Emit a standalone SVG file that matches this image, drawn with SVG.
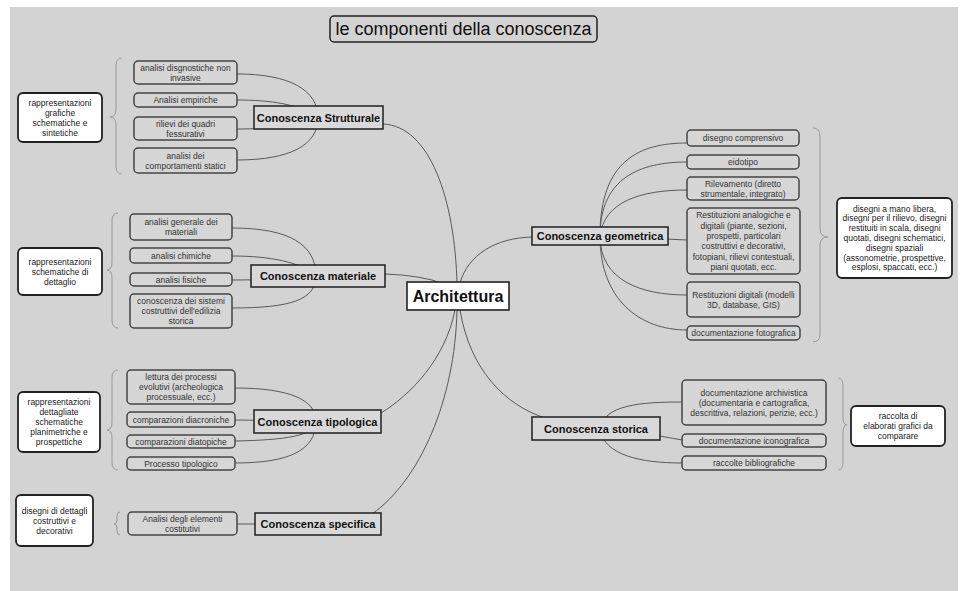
<svg xmlns="http://www.w3.org/2000/svg" width="964" height="591" viewBox="0 0 964 591">
<style>
text{font-family:"Liberation Sans",Arial,sans-serif;text-anchor:middle}
.bg{fill:#d3d3d3}
.c{fill:none;stroke:#5a5a5a;stroke-width:1}
.br{fill:none;stroke:#9a9a9a;stroke-width:1}
.leaf{fill:#d6d6d6;stroke:#454545;stroke-width:1.5}
.note{fill:#ffffff;stroke:#222;stroke-width:1.8}
.branch{fill:#d9d9d9;stroke:#2a2a2a;stroke-width:1.6}
.lt{font-size:8.5px;fill:#333}
.nt{font-size:8.5px;fill:#1a1a1a}
.bt{font-size:11px;font-weight:bold;fill:#111}
</style>
<rect x="0" y="0" width="964" height="591" fill="#ffffff"/>
<rect class="bg" x="10" y="7" width="948" height="584"/>

<g id="connectors">
<!-- root -->
<path class="c" d="M457,284 C455,200 430,126 383,124"/>
<path class="c" d="M385,274 Q420,275 445,284"/>
<path class="c" d="M460,283 C468,255 495,238 532,237"/>
<path class="c" d="M455,310 C445,360 410,395 381,413"/>
<path class="c" d="M457,310 C455,400 420,480 372,514"/>
<path class="c" d="M460,310 C470,370 505,405 545,418"/>
<!-- strutturale -->
<path class="c" d="M237,74 C290,74 318,90 318,118"/>
<path class="c" d="M237,100 C270,100 300,104 318,118"/>
<path class="c" d="M237,129 C270,129 300,125 318,118"/>
<path class="c" d="M237,160 C290,160 318,145 318,118"/>
<!-- materiale -->
<path class="c" d="M232,228 C290,228 316,245 316,276"/>
<path class="c" d="M232,256 C270,256 300,262 318,276"/>
<path class="c" d="M232,280 C270,280 300,278 318,276"/>
<path class="c" d="M232,308 C290,308 316,300 316,276"/>
<!-- tipologica -->
<path class="c" d="M235,388 C290,388 316,400 316,421"/>
<path class="c" d="M235,420 L318,421"/>
<path class="c" d="M235,441 C285,440 316,436 316,421"/>
<path class="c" d="M235,463 C290,463 316,450 316,421"/>
<!-- specifica -->
<path class="c" d="M237,524 L318,524"/>
<!-- geometrica -->
<path class="c" d="M600,236 C600,160 640,143 687,143"/>
<path class="c" d="M600,236 C600,178 640,162 687,162"/>
<path class="c" d="M600,236 C604,202 640,190 687,190"/>
<path class="c" d="M600,236 L687,240"/>
<path class="c" d="M600,236 C600,280 640,295 687,295"/>
<path class="c" d="M600,236 C600,300 640,330 687,330"/>
<!-- storica -->
<path class="c" d="M600,428 C605,405 640,402 682,402"/>
<path class="c" d="M600,430 C640,432 660,436 682,440"/>
<path class="c" d="M600,430 C605,455 640,463 682,463"/>
</g>

<g id="braces">
<path class="br" d="M122,58 Q116,58 116,66 L116,109 Q116,117 110,117 Q116,117 116,125 L116,166 Q116,174 122,174"/>
<path class="br" d="M118,213 Q112,213 112,221 L112,262 Q112,270 107,270 Q112,270 112,278 L112,320 Q112,328 118,328"/>
<path class="br" d="M118,370 Q112,370 112,378 L112,422 Q112,430 107,430 Q112,430 112,438 L112,462 Q112,470 118,470"/>
<path class="br" d="M120,512 Q117,512 117,516 L117,520 Q117,524 114,524 Q117,524 117,528 L117,531 Q117,535 120,535"/>
<path class="br" d="M813,128 Q820,128 820,136 L820,229 Q820,237 828,237 Q820,237 820,245 L820,334 Q820,342 813,342"/>
<path class="br" d="M838,378 Q843,378 843,386 L843,417 Q843,425 847,425 Q843,425 843,433 L843,462 Q843,470 838,470"/>
</g>

<g id="title">
<rect x="330" y="16" width="267" height="26" rx="4" fill="#d3d3d3" stroke="#222" stroke-width="1.5"/>
<text x="463.5" y="35" font-size="18" fill="#111">le componenti della conoscenza</text>
</g>

<g id="architettura">
<rect x="407" y="282" width="102" height="28" fill="#ffffff" stroke="#222" stroke-width="1.6"/>
<text x="458" y="302" font-size="16" font-weight="bold" fill="#111">Architettura</text>
</g>

<g id="strutturale">
<rect class="branch" x="254" y="106" width="129" height="23"/>
<text class="bt" x="318.5" y="121.5">Conoscenza Strutturale</text>
</g>
<g id="s1"><rect class="leaf" x="134" y="61" width="103" height="23" rx="4"/><text class="lt" x="185.5" y="70.5">analisi disgnostiche non<tspan x="185.5" dy="10">invasive</tspan></text></g>
<g id="s2"><rect class="leaf" x="134" y="93" width="103" height="14" rx="4"/><text class="lt" x="185.5" y="103">Analisi empiriche</text></g>
<g id="s3"><rect class="leaf" x="134" y="117" width="103" height="23" rx="4"/><text class="lt" x="185.5" y="126.5">rilievi dei quadri<tspan x="185.5" dy="10">fessurativi</tspan></text></g>
<g id="s4"><rect class="leaf" x="134" y="148" width="103" height="25" rx="4"/><text class="lt" x="185.5" y="158.5">analisi dei<tspan x="185.5" dy="10">comportamenti statici</tspan></text></g>
<g id="sn"><rect class="note" x="18" y="93" width="84" height="49" rx="5"/><text class="nt" x="60" y="105.5">rappresentazioni<tspan x="60" dy="10">grafiche</tspan><tspan x="60" dy="10">schematiche e</tspan><tspan x="60" dy="10">sintetiche</tspan></text></g>

<g id="materiale">
<rect class="branch" x="251" y="265" width="134" height="22"/>
<text class="bt" x="318" y="280">Conoscenza materiale</text>
</g>
<g id="m1"><rect class="leaf" x="130" y="214" width="102" height="26" rx="4"/><text class="lt" x="181" y="225">analisi generale dei<tspan x="181" dy="10">materiali</tspan></text></g>
<g id="m2"><rect class="leaf" x="130" y="248" width="102" height="15" rx="4"/><text class="lt" x="181" y="258.5">analisi chimiche</text></g>
<g id="m3"><rect class="leaf" x="130" y="273" width="102" height="13" rx="4"/><text class="lt" x="181" y="282.5">analisi fisiche</text></g>
<g id="m4"><rect class="leaf" x="130" y="294" width="102" height="34" rx="4"/><text class="lt" x="181" y="304">conoscenza dei sistemi<tspan x="181" dy="10">costruttivi dell'edilizia</tspan><tspan x="181" dy="10">storica</tspan></text></g>
<g id="mn"><rect class="note" x="18" y="248" width="84" height="47" rx="5"/><text class="nt" x="60" y="264.5">rappresentazioni<tspan x="60" dy="10">schematiche di</tspan><tspan x="60" dy="10">dettaglio</tspan></text></g>

<g id="tipologica">
<rect class="branch" x="254" y="410" width="127" height="23"/>
<text class="bt" x="317.5" y="425.5">Conoscenza tipologica</text>
</g>
<g id="t1"><rect class="leaf" x="127" y="370" width="108" height="34" rx="4"/><text class="lt" x="181" y="380">lettura dei processi<tspan x="181" dy="10">evolutivi (archeologica</tspan><tspan x="181" dy="10">processuale, ecc.)</tspan></text></g>
<g id="t2"><rect class="leaf" x="127" y="412" width="108" height="15" rx="4"/><text class="lt" x="181" y="422.5">comparazioni diacroniche</text></g>
<g id="t3"><rect class="leaf" x="127" y="435" width="108" height="13" rx="4"/><text class="lt" x="181" y="444.5">comparazioni diatopiche</text></g>
<g id="t4"><rect class="leaf" x="127" y="457" width="108" height="13" rx="4"/><text class="lt" x="181" y="466.5">Processo tipologico</text></g>
<g id="tn"><rect class="note" x="18" y="392" width="82" height="60" rx="5"/><text class="nt" x="59" y="405">rappresentazioni<tspan x="59" dy="10">dettagliate</tspan><tspan x="59" dy="10">schematiche</tspan><tspan x="59" dy="10">planimetriche e</tspan><tspan x="59" dy="10">prospettiche</tspan></text></g>

<g id="specifica">
<rect class="branch" x="255" y="513" width="126" height="22"/>
<text class="bt" x="318" y="528">Conoscenza specifica</text>
</g>
<g id="p1"><rect class="leaf" x="128" y="512" width="109" height="23" rx="4"/><text class="lt" x="182.5" y="521.5">Analisi degli elementi<tspan x="182.5" dy="10">costitutivi</tspan></text></g>
<g id="pn"><rect class="note" x="16" y="495" width="77" height="51" rx="5"/><text class="nt" x="54.5" y="513.5">disegni di dettagli<tspan x="54.5" dy="10">costruttivi e</tspan><tspan x="54.5" dy="10">decorativi</tspan></text></g>

<g id="geometrica">
<rect class="branch" x="532" y="227" width="136" height="18"/>
<text class="bt" x="600" y="240">Conoscenza geometrica</text>
</g>
<g id="g1"><rect class="leaf" x="687" y="130" width="112" height="16" rx="4"/><text class="lt" x="743" y="141">disegno comprensivo</text></g>
<g id="g2"><rect class="leaf" x="687" y="155" width="112" height="14" rx="4"/><text class="lt" x="743" y="165">eidotipo</text></g>
<g id="g3"><rect class="leaf" x="687" y="177" width="112" height="23" rx="4"/><text class="lt" x="743" y="186.5">Rilevamento (diretto<tspan x="743" dy="10">strumentale, integrato)</tspan></text></g>
<g id="g4"><rect class="leaf" x="687" y="208" width="113" height="66" rx="4"/><text class="lt" x="743.5" y="218.3">Restituzioni analogiche e<tspan x="743.5" dy="10.3">digitali (piante, sezioni,</tspan><tspan x="743.5" dy="10.3">prospetti, particolari</tspan><tspan x="743.5" dy="10.3">costruttivi e decorativi,</tspan><tspan x="743.5" dy="10.3">fotopiani, rilievi contestuali,</tspan><tspan x="743.5" dy="10.3">piani quotati, ecc.</tspan></text></g>
<g id="g5"><rect class="leaf" x="687" y="282" width="113" height="35" rx="4"/><text class="lt" x="743.5" y="297.5">Restituzioni digitali (modelli<tspan x="743.5" dy="10.5">3D, database, GIS)</tspan></text></g>
<g id="g6"><rect class="leaf" x="687" y="326" width="113" height="14" rx="4"/><text class="lt" x="743.5" y="336">documentazione fotografica</text></g>
<g id="gn"><rect class="note" x="837" y="198" width="115" height="80" rx="5"/><text class="nt" x="894.5" y="211.6">disegni a mano libera,<tspan x="894.5" dy="9.8">disegni per il rilievo, disegni</tspan><tspan x="894.5" dy="9.8">restituiti in scala, disegni</tspan><tspan x="894.5" dy="9.8">quotati, disegni schematici,</tspan><tspan x="894.5" dy="9.8">disegni spaziali</tspan><tspan x="894.5" dy="9.8">(assonometrie, prospettive,</tspan><tspan x="894.5" dy="9.8">esplosi, spaccati, ecc.)</tspan></text></g>

<g id="storica">
<rect class="branch" x="532" y="417" width="128" height="23"/>
<text class="bt" x="596" y="432.5">Conoscenza storica</text>
</g>
<g id="h1"><rect class="leaf" x="682" y="380" width="144" height="45" rx="4"/><text class="lt" x="754" y="395.5">documentazione archivistica<tspan x="754" dy="10">(documentaria e cartografica,</tspan><tspan x="754" dy="10">descrittiva, relazioni, perizie, ecc.)</tspan></text></g>
<g id="h2"><rect class="leaf" x="682" y="434" width="144" height="13" rx="4"/><text class="lt" x="754" y="443.5">documentazione iconografica</text></g>
<g id="h3"><rect class="leaf" x="682" y="456" width="144" height="14" rx="4"/><text class="lt" x="754" y="466">raccolte bibliografiche</text></g>
<g id="hn"><rect class="note" x="851" y="406" width="94" height="40" rx="5"/><text class="nt" x="898" y="419">raccolta di<tspan x="898" dy="10">elaborati grafici da</tspan><tspan x="898" dy="10">comparare</tspan></text></g>
</svg>
